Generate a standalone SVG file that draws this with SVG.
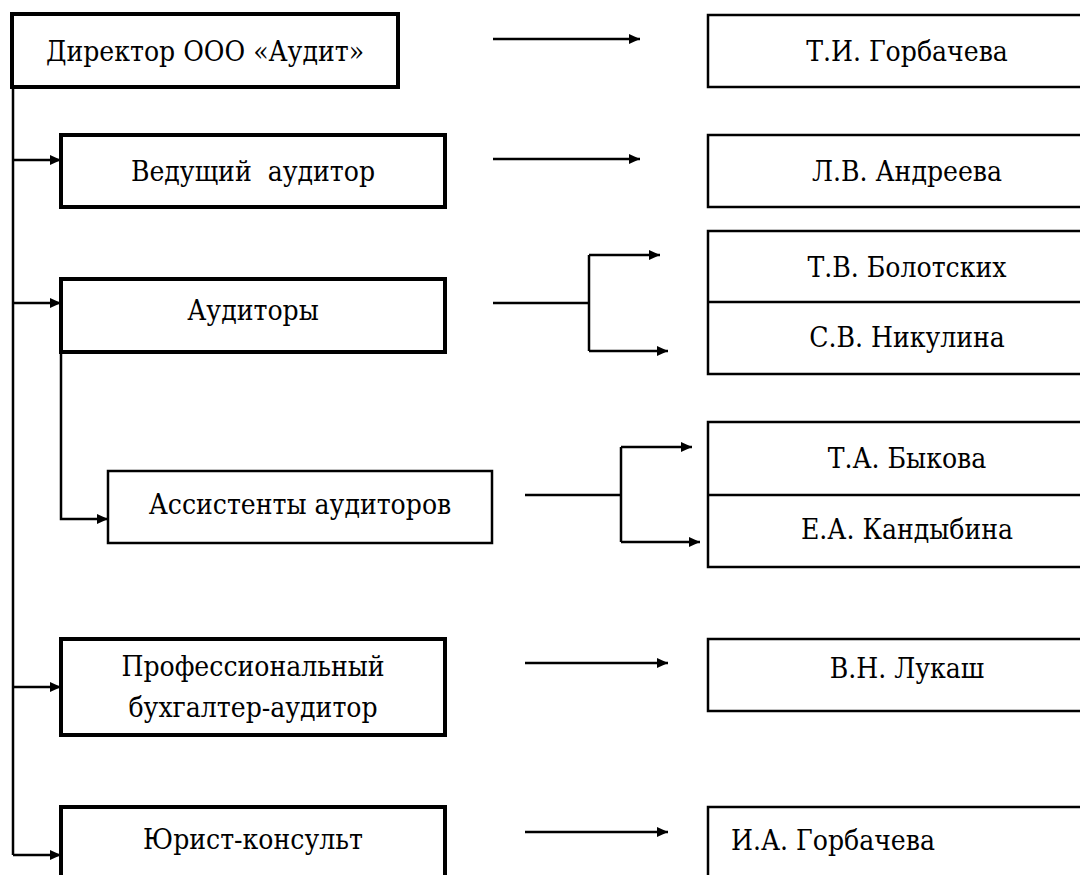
<svg xmlns="http://www.w3.org/2000/svg" width="1080" height="875" viewBox="0 0 1080 875">
<style>
  .thick { fill: #fff; stroke: #000; stroke-width: 4; }
  .thin { fill: #fff; stroke: #000; stroke-width: 2.5; }
  text { font-family: 'DejaVu Serif Condensed', 'DejaVu Serif', 'Liberation Serif', serif; font-size: 28px; fill: #000; }
  .t { text-anchor: middle; }
  .tl { text-anchor: start; }
  .c { fill: none; stroke: #000; stroke-width: 2.5; }
  .div { stroke: #000; stroke-width: 2.5; }
</style>
<defs>
  <marker id="ah" viewBox="0 0 11 10" refX="11" refY="5" markerWidth="11" markerHeight="10" markerUnits="userSpaceOnUse" orient="auto">
    <path d="M0,0 L11,5 L0,10 z" fill="#000"/>
  </marker>
</defs>
<rect width="1080" height="875" fill="#fff"/>

<g id="connectors">
  <path class="c" d="M13,87 V855"/>
  <path class="c" d="M13,160 H61" marker-end="url(#ah)"/>
  <path class="c" d="M13,303 H61" marker-end="url(#ah)"/>
  <path class="c" d="M13,687 H61" marker-end="url(#ah)"/>
  <path class="c" d="M13,855 H61" marker-end="url(#ah)"/>
  <path class="c" d="M61,353 V519 H108" marker-end="url(#ah)"/>
  <path class="c" d="M493,39 H640" marker-end="url(#ah)"/>
  <path class="c" d="M493,159 H640" marker-end="url(#ah)"/>
  <path class="c" d="M493,303 H589"/>
  <path class="c" d="M589,255 V351"/>
  <path class="c" d="M589,255 H660" marker-end="url(#ah)"/>
  <path class="c" d="M589,351 H668" marker-end="url(#ah)"/>
  <path class="c" d="M525,495 H621"/>
  <path class="c" d="M621,447 V542"/>
  <path class="c" d="M621,447 H692" marker-end="url(#ah)"/>
  <path class="c" d="M621,542 H700" marker-end="url(#ah)"/>
  <path class="c" d="M525,663 H668" marker-end="url(#ah)"/>
  <path class="c" d="M525,832 H668" marker-end="url(#ah)"/>
</g>

<g id="director">
  <rect class="thick" x="12" y="14" width="386" height="73"/>
  <text class="t" x="205" y="61">Директор ООО «Аудит»</text>
</g>
<g id="gorbacheva-ti">
  <rect class="thin" x="708" y="15" width="400" height="72"/>
  <text class="t" x="907" y="61">Т.И. Горбачева</text>
</g>
<g id="lead-auditor">
  <rect class="thick" x="61" y="135" width="384" height="72"/>
  <text class="t" x="253" y="181" xml:space="preserve">Ведущий  аудитор</text>
</g>
<g id="andreeva">
  <rect class="thin" x="708" y="135" width="400" height="72"/>
  <text class="t" x="907" y="181">Л.В. Андреева</text>
</g>
<g id="auditors">
  <rect class="thick" x="61" y="279" width="384" height="73"/>
  <text class="t" x="253" y="320">Аудиторы</text>
</g>
<g id="auditors-names">
  <rect class="thin" x="708" y="231" width="400" height="143"/>
  <line class="div" x1="708" y1="302" x2="1108" y2="302"/>
  <text class="t" x="907" y="277">Т.В. Болотских</text>
  <text class="t" x="907" y="347">С.В. Никулина</text>
</g>
<g id="assistants">
  <rect class="thin" x="108" y="471" width="384" height="72"/>
  <text class="t" x="300" y="514">Ассистенты аудиторов</text>
</g>
<g id="assistants-names">
  <rect class="thin" x="708" y="422" width="400" height="145"/>
  <line class="div" x1="708" y1="495" x2="1108" y2="495"/>
  <text class="t" x="907" y="468">Т.А. Быкова</text>
  <text class="t" x="907" y="539">Е.А. Кандыбина</text>
</g>
<g id="accountant">
  <rect class="thick" x="61" y="639" width="384" height="96"/>
  <text class="t" x="253" y="676">Профессиональный</text>
  <text class="t" x="253" y="717">бухгалтер-аудитор</text>
</g>
<g id="lukash">
  <rect class="thin" x="708" y="639" width="400" height="72"/>
  <text class="t" x="907" y="678">В.Н. Лукаш</text>
</g>
<g id="lawyer">
  <rect class="thick" x="61" y="807" width="384" height="100"/>
  <text class="t" x="253" y="849">Юрист-консульт</text>
</g>
<g id="gorbacheva-ia">
  <rect class="thin" x="708" y="807" width="400" height="100"/>
  <text class="tl" x="731" y="850">И.А. Горбачева</text>
</g>
</svg>
